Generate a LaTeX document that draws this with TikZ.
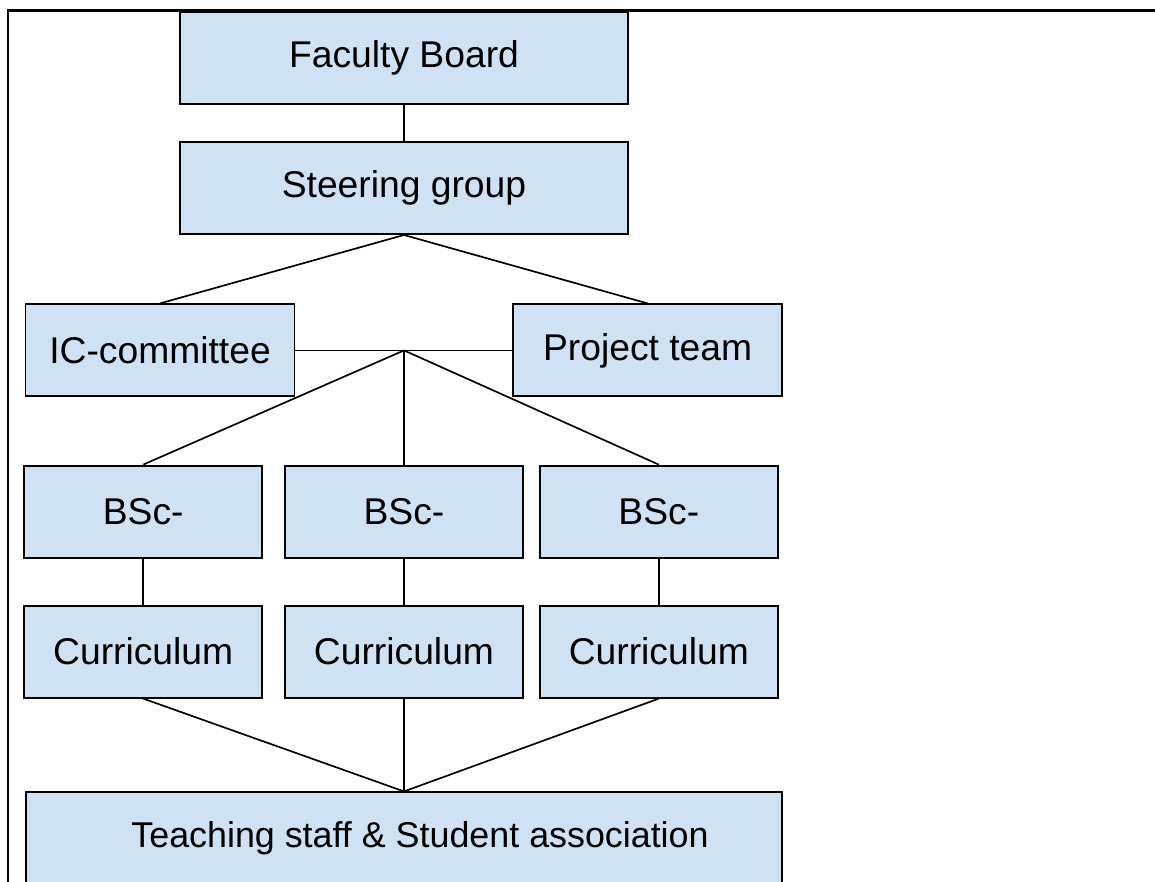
\documentclass[tikz,border=0pt]{standalone}
\usepackage{fontspec}
\setmainfont{Liberation Sans}
\definecolor{boxblue}{HTML}{CFE2F3}
\tikzset{
    box/.style={draw, line width=1.4pt, fill=boxblue, minimum height=2.3cm,
                inner sep=0pt, align=center, font=\fontsize{26.5}{31}\selectfont},
    widebox/.style={box, minimum width=11.2cm},
    sidebox/.style={box, minimum width=6.725cm},
    colbox/.style={box, minimum width=5.95cm},
    link/.style={line width=1.2pt},
    frame/.style={line width=2pt},
}

\begin{document}
\begin{tikzpicture}

    \clip (0,0) rectangle (28.875,-22.025);

    \node[widebox] (faculty) at (10.1,-1.45) {Faculty Board};
    \node[widebox] (steering) at (10.1,-4.7) {Steering group};
    \node[sidebox] (ic) at (4.0,-8.76) {IC-committee};
    \node[sidebox] (project) at (16.19,-8.76) {Project team};
    \coordinate (hub) at (10.1,-8.76);

    \node[colbox] (bscA) at (3.58,-12.79) {BSc-};
    \node[colbox] (bscB) at (10.1,-12.79) {BSc-};
    \node[colbox] (bscC) at (16.47,-12.79) {BSc-};
    \node[colbox] (curA) at (3.58,-16.29) {Curriculum};
    \node[colbox] (curB) at (10.1,-16.29) {Curriculum};
    \node[colbox] (curC) at (16.47,-16.29) {Curriculum};

    % text sits a little right of the middle
    \node[box, minimum width=18.9cm, font=\fontsize{25.5}{30}\selectfont]
        (staff) at (10.1,-20.96)
        {\hspace*{0.8cm}Teaching staff \& Student association};

    \draw[link] (faculty) -- (steering);
    \draw[link] (steering.south) -- (ic.north);
    \draw[link] (steering.south) -- (project.north);
    \draw[link] (ic.east) -- (hub) -- (project.west);
    \draw[link] (hub) -- (bscA.north);
    \draw[link] (hub) -- (bscB.north);
    \draw[link] (hub) -- (bscC.north);
    \draw[link] (bscA) -- (curA);
    \draw[link] (bscB) -- (curB);
    \draw[link] (bscC) -- (curC);
    \draw[link] (curA.south) -- (staff.north);
    \draw[link] (curB.south) -- (staff.north);
    \draw[link] (curC.south) -- (staff.north);

    % page edge
    \draw[frame] (29,-0.27) -- (0.2,-0.27) -- (0.2,-22.2);

\end{tikzpicture}
\end{document}
